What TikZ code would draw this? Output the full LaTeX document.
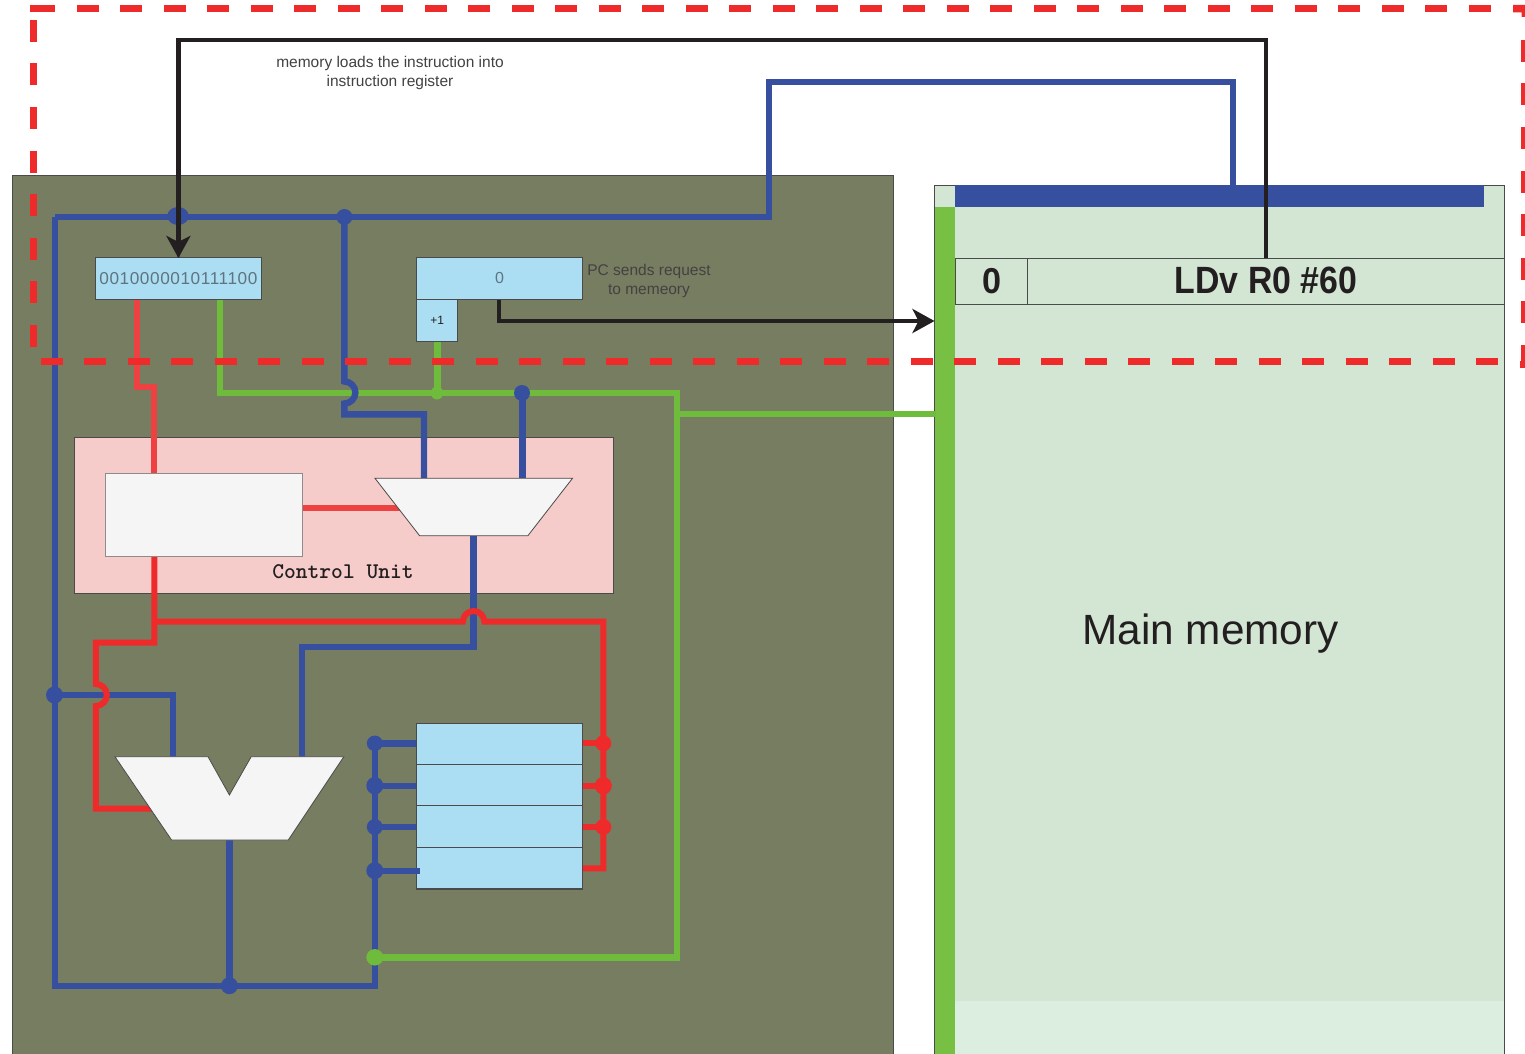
\documentclass[tikz,border=0pt]{standalone}
\usepackage{graphicx}
\usepackage{fontspec}
\setmainfont{Liberation Sans}
\usetikzlibrary{arrows.meta,shapes.geometric}
\pgfdeclarelayer{back}
\pgfdeclarelayer{wire}
\pgfdeclarelayer{front}
\pgfsetlayers{back,wire,main,front}
\definecolor{olive}{HTML}{777D60}
\definecolor{wblue}{HTML}{36509F}
\definecolor{wred}{HTML}{EF2A2A}
\definecolor{wredl}{HTML}{EE4242}
\definecolor{wgreen}{HTML}{6FBB3C}
\definecolor{busgreen}{HTML}{78C043}
\definecolor{memfill}{HTML}{D3E5D3}
\definecolor{memlow}{HTML}{DCEEDF}
\definecolor{cupink}{HTML}{F6CCCB}
\definecolor{regblue}{HTML}{ACDEF3}
\definecolor{muxwhite}{HTML}{F5F5F5}
\definecolor{ink}{HTML}{231F20}
\definecolor{edge}{HTML}{4A4A4A}
\definecolor{digit}{HTML}{5E7480}
\tikzset{
  x=1pt,y=-1pt,
  panel/.style={draw=edge,line width=1pt,inner sep=0pt,outer sep=0pt,rectangle},
  regbox/.style={panel,fill=regblue},
  blockw/.style={draw=black!45,line width=1pt,fill=muxwhite,inner sep=0pt,outer sep=0pt,rectangle},
  muxshape/.style={draw=edge,line width=.8pt,fill=muxwhite},
  bluew/.style={draw=wblue,line width=6.4pt},
  redw/.style={draw=wred,line width=6pt},
  redl/.style={draw=wredl,line width=6pt},
  greenw/.style={draw=wgreen,line width=6.4pt},
  blackw/.style={draw=ink,line width=4.2pt},
  tipk/.style={-{Stealth[length=22pt,width=24pt,inset=6pt]}},
  jct/.style={shape=ellipse,inner sep=0pt,outer sep=0pt,minimum width=16pt,minimum height=16pt},
  jblue/.style={jct,fill=wblue},
  jred/.style={jct,fill=wred},
  jgreen/.style={jct,fill=wgreen},
  reddash/.style={draw=wred,line width=7.4pt,dash pattern=on 22pt off 21.5pt},
  redsolid/.style={draw=wred,line width=7.4pt},
  note/.style={font=\fontsize{15.5}{19.5}\selectfont,text=ink!85,align=center,inner sep=0pt},
}
\begin{document}
\begin{tikzpicture}
\useasboundingbox (0,0) rectangle (1525,1054);
\clip (0,0) rectangle (1525,1054);

% ---- backgrounds
\begin{pgfonlayer}{back}
  \fill[white] (0,0) rectangle (1525,1054);
  \path[panel,fill=olive] (12.5,175) rectangle (893.5,1070);
  \path[panel,fill=memfill] (934.7,185) rectangle (1504.4,1070);
  \fill[memlow] (955,1001) rectangle (1504,1070);
  \fill[busgreen] (934.7,207) rectangle (955,1070);
  \path[fill=wblue] (955,185) rectangle (1484.3,207);
  \path[panel,fill=cupink] (74.6,437.7) rectangle (613.6,593);
\end{pgfonlayer}

% ---- blocks
\node[regbox,minimum width=166,minimum height=41.5,font=\fontsize{17.2}{20}\selectfont,text=digit] (ir) at (178.4,278.7) {\raisebox{.7pt}{\addfontfeature{LetterSpace=3.4}0010000010111100}};
\node[regbox,minimum width=165.5,minimum height=41.5,font=\fontsize{16}{20}\selectfont,text=digit] (pc) at (499.5,278.7) {\raisebox{.7pt}{0}};
\node[regbox,minimum width=41.2,minimum height=41.5,font=\fontsize{12}{14}\selectfont,text=ink] (inc) at (437.3,320.3) {+1};
\node[blockw,minimum width=197.5,minimum height=83.4] (cu) at (204.2,515) {};
\node[regbox,minimum width=166,minimum height=41] (r0) at (499.5,743.8) {};
\node[regbox,minimum width=166,minimum height=41.4] (r1) at (499.5,785) {};
\node[regbox,minimum width=166,minimum height=41.6] (r2) at (499.5,826.5) {};
\node[regbox,line width=1.4pt,minimum width=166,minimum height=41.7] (r3) at (499.5,868.2) {};
\node[panel,minimum width=72.2,minimum height=46.7,font=\bfseries\fontsize{36}{40}\selectfont,text=ink] (addr) at (991.6,281.4) {\raisebox{1.6pt}{\scalebox{.95}[1]{0}}};
\node[panel,minimum width=476.7,minimum height=46.7,font=\bfseries\fontsize{38}{42}\selectfont,text=ink] (instr) at (1266,281.4) {\raisebox{2pt}{\scalebox{.89}[1]{LDv R0 \#60}}};
\node[font=\fontsize{42.3}{46}\selectfont,text=ink,inner sep=0pt] (mainmem) at (1210.5,634) {Main memory};
\node[font=\ttfamily\bfseries\fontsize{22.4}{24}\selectfont,text=ink,inner sep=0pt] (culabel) at (343,571.5) {Control Unit};
\node[note] (noteload) at (390,73) {memory loads the instruction into\\instruction register};
\node[note] (notepc) at (649,281) {PC sends request\\to memeory};

\draw[muxshape] (375,478.3) -- (572.5,478.3) -- (527.9,535.7) -- (419.6,535.7) -- cycle;
\coordinate (cmuxa) at (424,478.3);
\coordinate (cmuxb) at (522.5,478.3);
\coordinate (cmuxc) at (473.6,535.7);
\coordinate (cmuxs) at (400,507.7);
\draw[muxshape] (115,756.7) -- (208,756.7) -- (229.4,795) -- (251.2,756.7) -- (343.8,756.7) -- (288.3,840) -- (171.6,840) -- cycle;
\coordinate (alua) at (172.7,756.7);
\coordinate (alub) at (302,756.7);
\coordinate (aluc) at (229.4,840);
\coordinate (alus) at (152,808.7);

% ---- coordinates of the wiring
\coordinate (bustl) at (55,217);
\coordinate (busbl) at (55,985.7);
\coordinate (busbr) at (374.8,985.7);
\coordinate (bustr) at (769,217);
\coordinate (addrtl) at (769,82);
\coordinate (addrtr) at (1233,82);
\coordinate (addrb) at (1233,185);
\coordinate (looptop) at (700,40);
\coordinate (loadtl) at (ir.north |- looptop);
\coordinate (loadtr) at (instr.north |- looptop);
\coordinate (irred) at (137.2,299.5);
\coordinate (irredm) at (137.2,386.7);
\coordinate (irredn) at (154.3,386.7);
\coordinate (irgreen) at (220.2,299.5);
\coordinate (gcor) at (220.2,393);
\coordinate (gright) at (677,393);
\coordinate (gbot) at (677,957.3);
\coordinate (gmem) at (677,414);
\coordinate (gmemr) at (936,414);
\coordinate (hopa) at (344.4,381.5);
\coordinate (mblue) at (344.4,414.3);
\coordinate (mbluer) at (424,414.3);
\coordinate (pcout) at (499.3,299.5);
\coordinate (pcbend) at (499.3,321);
\coordinate (memin) at (934.5,321);
\coordinate (cuout) at (154.3,556.7);
\coordinate (cutop) at (154.3,473.3);
\coordinate (cuside) at (302.9,507.7);
\coordinate (rj) at (154.3,621.7);
\coordinate (rl) at (154.3,642.7);
\coordinate (rm) at (95.8,642.7);
\coordinate (rhopa) at (95.8,684);
\coordinate (rn) at (95.8,808.7);
\coordinate (rhopc) at (462.9,621.7);
\coordinate (rr) at (603.3,621.7);
\coordinate (rrb) at (603.3,868.3);
\coordinate (bm) at (473.6,647);
\coordinate (bmm) at (302,647);
\coordinate (bl) at (172.7,695);

% ---- wires
\begin{pgfonlayer}{wire}
  \draw[greenw] (irgreen) -- (gcor) -- (gright) -- (gbot) -- (busbr |- gbot);
  \draw[greenw] (gmem) -- (gmemr);
  \draw[greenw] (inc.south) -- (inc.south |- gcor);
  \draw[bluew] (bustl) -- (busbl) -- (busbr) -- (374.8,743.3);
  \draw[bluew] (bustl) -- (bustr) -- (addrtl) -- (addrtr) -- (addrb);
  \draw[draw=wblue,line width=3pt] (ir.north |- bustl) -- (ir.north);
  \draw[bluew] (344.4,217) -- (hopa) arc[start angle=90,end angle=-90,radius=11pt] -- (mblue) -- (mbluer) -- (cmuxa);
  \draw[bluew] (522.5,393) -- (cmuxb);
  \draw[bluew] (cmuxc) -- (bm) -- (bmm) -- (alub);
  \draw[bluew] (55,695) -- (bl) -- (alua);
  \draw[draw=wblue,line width=7pt] (aluc) -- (229.4,985.7);
  \draw[bluew] (374.8,743.3) -- (r0.west |- 374.8,743.3);
  \draw[bluew] (374.8,785.7) -- (r1.west |- 374.8,785.7);
  \draw[bluew] (374.8,827) -- (r2.west |- 374.8,827);
  \draw[redl] (irred) -- (irredm) -- (irredn) -- (cutop);
  \draw[redl] (cuside) -- (cmuxs);
  \draw[redw] (cuout) -- (rl) -- (rm) -- (rhopa) arc[start angle=90,end angle=-90,radius=11pt] -- (rn) -- (alus);
  \draw[redw] (rj) -- (rhopc) arc[start angle=180,end angle=0,radius=10.7pt] -- (rr) -- (rrb) -- (r3.east |- rrb);
  \draw[redw] (603.3,743.3) -- (r0.east |- 603.3,743.3);
  \draw[redw] (603.3,785.7) -- (r1.east |- 603.3,785.7);
  \draw[redw] (603.3,827) -- (r2.east |- 603.3,827);
\end{pgfonlayer}

% ---- top layer
\begin{pgfonlayer}{front}
  \draw[bluew] (374.8,870.7) -- (419.6,870.7);
  \node[jblue,minimum width=21.5pt,minimum height=18pt] (j1) at (178,216) {};
  \node[jblue] (j2) at (344.4,217) {};
  \node[jgreen,minimum width=12.5pt,minimum height=13pt] (j3) at (437,393) {};
  \node[jblue] (j4) at (522,393) {};
  \node[jblue,minimum width=17pt,minimum height=17pt] (j5) at (54.5,695) {};
  \node[jblue,minimum width=17pt,minimum height=17pt] (j6) at (229.4,985.7) {};
  \node[jblue,minimum width=16pt,minimum height=15.5pt] (j7) at (374.8,743.3) {};
  \node[jblue,minimum width=17pt,minimum height=17.5pt] (j8) at (374.8,785.7) {};
  \node[jblue] (j9) at (374.8,827) {};
  \node[jblue,minimum width=17pt,minimum height=17pt] (j10) at (374.8,870.7) {};
  \node[jred] (j11) at (603.3,743.3) {};
  \node[jred,minimum width=17pt,minimum height=17.5pt] (j12) at (603.3,785.7) {};
  \node[jred] (j13) at (603.3,827) {};
  \node[jgreen,minimum width=17pt,minimum height=16.5pt] (j14) at (374.8,957.3) {};
  \draw[blackw,tipk] (instr.north) -- (loadtr) -- (loadtl) -- (ir.north);
  \draw[blackw,tipk] (pcout) -- (pcbend) -- (memin);
  % dashed scope frame
  \draw[redsolid] (29.8,8.7) -- (55.3,8.7);
  \draw[reddash] (76.8,8.7) -- (1500,8.7);
  \fill[wred] (1513,5) rectangle (1525,12.4) (1521.7,12.4) rectangle (1525,17);
  \draw[reddash] (33.3,20) -- (33.3,350);
  \draw[reddash] (1525,40) -- (1525,345);
  \draw[redsolid] (1525,345) -- (1525,368);
  \fill[wred] (1520,361) rectangle (1525,368);
  \draw[reddash] (40.7,361.3) -- (1500,361.3);
\end{pgfonlayer}
\end{tikzpicture}
\end{document}
